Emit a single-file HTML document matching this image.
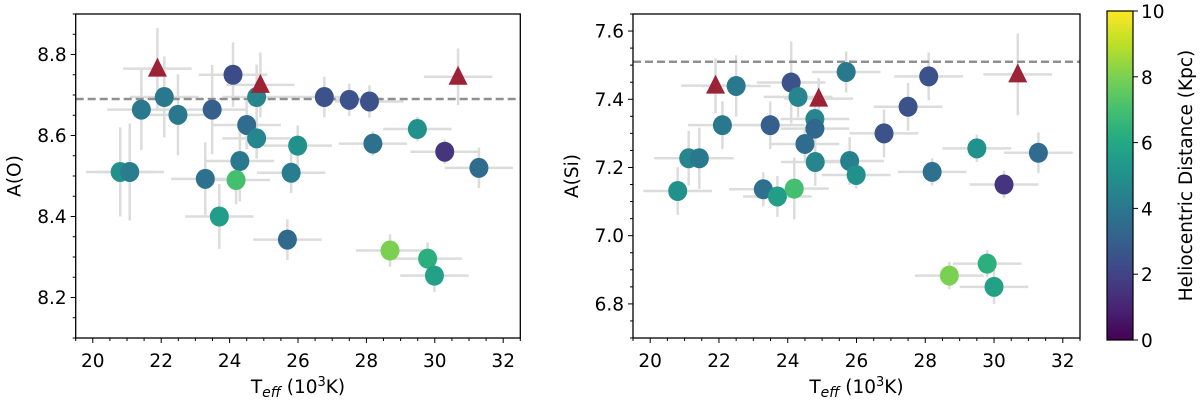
<!DOCTYPE html>
<html><head><meta charset="utf-8"><style>
body{margin:0;background:#fff;}
svg{display:block;font-family:"DejaVu Sans","Liberation Sans",sans-serif;}
</style></head><body>
<svg id="fig" width="1200" height="407" viewBox="0 0 1200 407" xmlns="http://www.w3.org/2000/svg">
<defs>
<linearGradient id="vir" x1="0" y1="1" x2="0" y2="0">
<stop offset="0" stop-color="#440154"/><stop offset="0.1" stop-color="#482475"/><stop offset="0.2" stop-color="#414487"/><stop offset="0.3" stop-color="#355f8d"/><stop offset="0.4" stop-color="#2a788e"/><stop offset="0.5" stop-color="#21918c"/><stop offset="0.6" stop-color="#22a884"/><stop offset="0.7" stop-color="#44bf70"/><stop offset="0.8" stop-color="#7ad151"/><stop offset="0.9" stop-color="#bddf26"/><stop offset="1" stop-color="#fde725"/>
</linearGradient>
</defs>
</svg>
<script>
// Left panel data: A(O)
const oTeff=[20.8,21.08,21.42,22.09,22.49,23.49,24.1,24.5,24.79,24.79,24.3,23.29,24.19,23.7,25.99,25.8,25.69,26.77,27.5,28.09,28.19,29.49,30.29,31.29,28.69,29.79,29.99];
const oAbund=[8.51,8.51,8.664,8.695,8.651,8.664,8.75,8.626,8.695,8.593,8.537,8.493,8.49,8.40,8.575,8.508,8.343,8.695,8.688,8.684,8.58,8.616,8.56,8.52,8.316,8.296,8.254];
const oDist=[5,4.2,4,4,4,3,2.3,3.5,4.5,4.6,4,3.7,7,5.5,5,4.2,3.4,2.5,2.5,2.5,3.7,5,1.5,3.5,8,6.3,5.7];
const oXerr=[1,1,1,1,1,1,1,1,1,1,1,1,1,1,1,1,1,1,1,1,1,1,1,1,1,1,1];
const oYerr=[0.11,0.12,0.1,0.1,0.1,0.11,0.08,0.06,0.08,0.05,0.1,0.09,0.06,0.08,0.05,0.05,0.05,0.05,0.04,0.04,0.03,0.03,0.03,0.05,0.04,0.04,0.04];
const oTriTeff=[21.89,24.9,30.68];
const oTriAbund=[8.765,8.725,8.745];
const oTriYerr=[0.1,0.08,0.07];
const oSolar=8.69;
// Right panel data: A(Si)
const siTeff=[20.8,21.12,21.43,22.1,22.5,23.49,24.1,24.3,24.79,24.79,24.5,24.8,23.29,23.7,24.19,25.7,25.8,25.99,26.8,27.5,28.1,28.2,29.5,30.29,31.29,28.7,29.8,30.0];
const siAbund=[7.131,7.227,7.227,7.324,7.439,7.324,7.449,7.407,7.342,7.314,7.269,7.216,7.136,7.115,7.138,7.48,7.219,7.178,7.30,7.378,7.467,7.187,7.256,7.15,7.243,6.883,6.918,6.85];
const siDist=[5,4.5,4,4,4,3,2.5,4.5,4.5,3.3,3.5,4.5,3.7,5.5,7,4,4.3,5,2.5,2.5,2.5,3.7,5,1.5,3.5,8,6.3,5.7];
const siXerr=[1,1,1,1,1,1,1,1,1,1,1,1,1,1,1,1,1,1,1,1,1,1,1,1,1,1,1,1];
const siYerr=[0.07,0.08,0.09,0.07,0.09,0.07,0.12,0.06,0.07,0.07,0.05,0.07,0.05,0.06,0.09,0.06,0.07,0.04,0.07,0.07,0.07,0.04,0.04,0.04,0.06,0.04,0.04,0.05];
const siTriTeff=[21.9,24.9,30.69];
const siTriAbund=[7.44,7.402,7.473];
const siTriYerr=[0.08,0.06,0.12];
const siSolar=7.51;
const xTicks=[20,22,24,26,28,30,32];
const oYTicks=[8.2,8.4,8.6,8.8];
const siYTicks=[6.8,7.0,7.2,7.4,7.6];
const cbTicks=[0,2,4,6,8,10];

const NS="http://www.w3.org/2000/svg";
const svg=document.getElementById('fig');
const FS=18.5;
function mk(tag,attrs,parent){const e=document.createElementNS(NS,tag);for(const k in attrs)e.setAttribute(k,attrs[k]);(parent||svg).appendChild(e);return e;}
const vstops=[[68,1,84],[72,36,117],[65,68,135],[53,95,141],[42,120,142],[33,145,140],[34,168,132],[68,191,112],[122,209,81],[189,223,38],[253,231,37]];
function viridis(d){let t=Math.max(0,Math.min(1,d/10))*10;let i=Math.min(9,Math.floor(t));let f=t-i;const a=vstops[i],b=vstops[i+1];return `rgb(${Math.round(a[0]+(b[0]-a[0])*f)},${Math.round(a[1]+(b[1]-a[1])*f)},${Math.round(a[2]+(b[2]-a[2])*f)})`;}

function panel(name,L,R,T,B,ymin,ymax,yticks,ylabel,tx,ay,dist,xe,ye,ttx,tay,tye,solar){
  const g=mk('g',{});
  
  
  const xs=v=>L+(v-19.5)/(13)*(R-L);
  const ys=v=>B-(v-ymin)/(ymax-ymin)*(B-T);
  const eg=mk('g',{},g);
  
  
  for(let i=0;i<tx.length;i++){
    mk('line',{x1:xs(tx[i]-xe[i]),x2:xs(tx[i]+xe[i]),y1:ys(ay[i]),y2:ys(ay[i]),stroke:'#dcdcdc','stroke-width':2.5},eg);
    mk('line',{x1:xs(tx[i]),x2:xs(tx[i]),y1:ys(ay[i]-ye[i]),y2:ys(ay[i]+ye[i]),stroke:'#dcdcdc','stroke-width':2.5},eg);
  }
  for(let i=0;i<ttx.length;i++){
    mk('line',{x1:xs(ttx[i]-1),x2:xs(ttx[i]+1),y1:ys(tay[i]),y2:ys(tay[i]),stroke:'#dcdcdc','stroke-width':2.5},eg);
    mk('line',{x1:xs(ttx[i]),x2:xs(ttx[i]),y1:ys(tay[i]-tye[i]),y2:ys(tay[i]+tye[i]),stroke:'#dcdcdc','stroke-width':2.5},eg);
  }
  const sl=mk('line',{x1:L,x2:R,y1:ys(solar),y2:ys(solar),stroke:'#909090','stroke-width':2.5,'stroke-dasharray':'8,4'},g);
  
  
  for(let i=0;i<tx.length;i++){
    const c=mk('ellipse',{cx:xs(tx[i]),cy:ys(ay[i]),rx:9.5,ry:10,fill:viridis(dist[i])},g);
    
    
  }
  for(let i=0;i<ttx.length;i++){
    const x=xs(ttx[i]),y=ys(tay[i]);
    const p=mk('polygon',{points:`${x-9.5},${y+8} ${x+9.5},${y+8} ${x},${y-11}`,fill:'#9b2335'},g);
    
    
  }
  const fr=mk('rect',{x:L,y:T,width:R-L,height:B-T,fill:'none',stroke:'#000','stroke-width':1.3},g);
  
  
  for(let v=19.5;v<=32.51;v+=0.5){
    const major=xTicks.some(t=>Math.abs(t-v)<1e-6);
    mk('line',{x1:xs(v),x2:xs(v),y1:B,y2:B+(major?5:3),stroke:'#000','stroke-width':1},g);
  }
  xTicks.forEach(t=>{const e=mk('text',{x:xs(t),y:B+29,'font-size':FS,'text-anchor':'middle'},g);e.textContent=t;});
  for(let k=Math.ceil(ymin/0.05-1e-6);k*0.05<=ymax+1e-6;k++){
    const v=k*0.05;const major=yticks.some(t=>Math.abs(t-v)<1e-6);
    mk('line',{x1:L,x2:L-(major?5:3),y1:ys(v),y2:ys(v),stroke:'#000','stroke-width':1},g);
  }
  yticks.forEach(t=>{const e=mk('text',{x:L-9,y:ys(t)+6.5,'font-size':FS,'text-anchor':'end'},g);e.textContent=t.toFixed(1);});
  const xl=mk('text',{x:(L+R)/2,y:B+55,'font-size':FS,'text-anchor':'middle'},g);
  
  
  xl.innerHTML='T<tspan font-style="italic" font-size="14" dy="4">eff</tspan><tspan dy="-4"> (10</tspan><tspan font-size="13" dy="-7">3</tspan><tspan dy="7">K)</tspan>';
  const yl=mk('text',{x:0,y:0,'font-size':FS,'text-anchor':'middle',transform:`translate(${L-55},${(T+B)/2}) rotate(-90)`},g);
  yl.textContent=ylabel;
  
  
}
panel('oxygen-panel',75.7,520.3,14,338,8.1,8.9,oYTicks,'A(O)',oTeff,oAbund,oDist,oXerr,oYerr,oTriTeff,oTriAbund,oTriYerr,oSolar);
panel('silicon-panel',633,1080,14,338,6.7,7.65,siYTicks,'A(Si)',siTeff,siAbund,siDist,siXerr,siYerr,siTriTeff,siTriAbund,siTriYerr,siSolar);
const cb=mk('g',{});


const cT=11,cB=340,cL=1107,cR=1133;
mk('rect',{x:cL,y:cT,width:cR-cL,height:cB-cT,fill:'url(#vir)',stroke:'#000','stroke-width':1.2},cb);
cbTicks.forEach(t=>{const y=cB-t/10*(cB-cT);mk('line',{x1:cR,x2:cR+5,y1:y,y2:y,stroke:'#000'},cb);const e=mk('text',{x:cR+8,y:y+7,'font-size':FS},cb);e.textContent=t;});
const cl=mk('text',{x:0,y:0,'font-size':FS,'text-anchor':'middle',transform:`translate(1192,${(cT+cB)/2}) rotate(-90)`},cb);
cl.textContent='Heliocentric Distance (Kpc)';


</script>
</body></html>
